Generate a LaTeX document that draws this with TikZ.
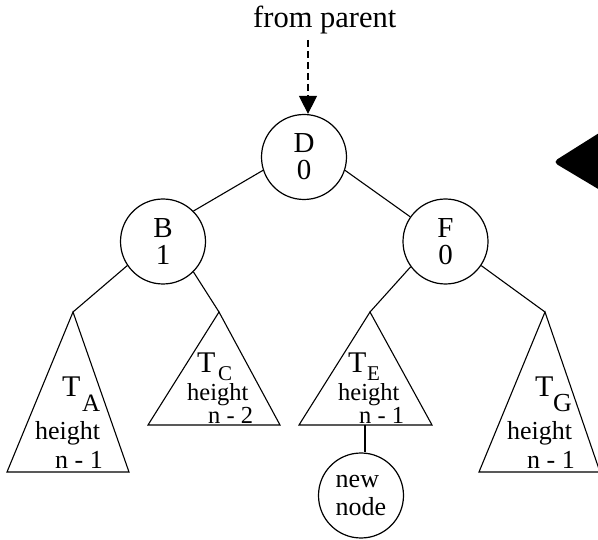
\documentclass[tikz,border=0pt]{standalone}
\usepackage{fontspec}
\setmainfont{Liberation Serif}
\usetikzlibrary{arrows.meta}
\tikzset{
  circ/.style={circle, draw, line width=1.2pt, minimum size=85pt, inner sep=0pt, align=center, font=\fontsize{29}{27}\selectfont},
  newcirc/.style={circle, draw, line width=1.2pt, minimum size=85pt, inner sep=0pt, align=left, font=\fontsize{26}{28}\selectfont},
  conn/.style={line width=1.1pt},
  tri/.style={line width=1.1pt, line join=miter},
  bigT/.style={anchor=base west, inner sep=0pt, font=\fontsize{30}{30}\selectfont},
  subl/.style={anchor=base west, inner sep=0pt, font=\fontsize{#1}{#1}\selectfont},
  htxt/.style={anchor=base west, inner sep=0pt, font=\fontsize{26}{26}\selectfont},
  hsmall/.style={anchor=base west, inner sep=0pt, font=\fontsize{24.5}{24}\selectfont},
}
\begin{document}
\begin{tikzpicture}[x=1pt,y=-1pt]
\useasboundingbox (0,0) rectangle (598,540);
\clip (0,0) rectangle (598,540);

% from parent
\node[anchor=base west, inner sep=0pt, font=\fontsize{30.5}{30}\selectfont] (fp) at (253,28) {from parent};
\coordinate (arrstart) at (308,40);

% circles
\node[circ] (D) at (304,157) {D\\0};
\node[circ] (B) at (163,241.5) {B\\1};
\node[circ] (F) at (445.5,241.5) {F\\0};
\node[newcirc] (N) at (361,495.5) {new\\node};

\draw[conn, dash pattern=on 7pt off 4pt, -{Triangle[length=18pt,width=18pt]}] (arrstart) -- (arrstart |- D.north);

% subtree apexes
\coordinate (TAtop) at (73,312);
\coordinate (TCtop) at (219,312);
\coordinate (TEtop) at (370,312);
\coordinate (TGtop) at (545,312);
\coordinate (TEbot) at (365,425);

% triangles
\draw[tri] (TAtop) -- (7,472) -- (129,472) -- cycle;
\draw[tri] (TCtop) -- (148,425) -- (280,425) -- cycle;
\draw[tri] (TEtop) -- (299,425) -- (432,425) -- cycle;
\draw[tri] (TGtop) -- (479,472) -- (600,472) -- cycle;

% connectors
\draw[conn] (D.198) -- (B.45);
\draw[conn] (D.342) -- (F.145);
\draw[conn] (B.214) -- (TAtop);
\draw[conn] (B.315) -- (TCtop);
\draw[conn] (F.216) -- (TEtop);
\draw[conn] (F.326) -- (TGtop);
\draw[conn] (TEbot) -- (TEbot |- N.north);

% subtree labels
\node[bigT] (TA) at (62,397) {T};
\node[subl=25] (TAs) at (82,412) {A};
\node[htxt] (TAh) at (35,440) {height};
\node[htxt] (TAn) at (55,468) {n - 1};

\node[bigT] (TC) at (197,373) {T};
\node[subl=21] (TCs) at (218,381) {C};
\node[hsmall] (TCh) at (187,401) {height};
\node[hsmall] (TCn) at (208,424) {n - 2};

\node[bigT] (TE) at (348,373) {T};
\node[subl=21] (TEs) at (367,381) {E};
\node[hsmall] (TEh) at (338,401) {height};
\node[hsmall] (TEn) at (359,424) {n - 1};

\node[bigT] (TG) at (535,397) {T};
\node[subl=26] (TGs) at (553,412) {G};
\node[htxt] (TGh) at (507,439) {height};
\node[htxt] (TGn) at (527,468) {n - 1};

% big black arrowhead at right
\fill[rounded corners=5pt] (553,162) -- (615,123) -- (615,199) -- cycle;
\end{tikzpicture}
\end{document}
